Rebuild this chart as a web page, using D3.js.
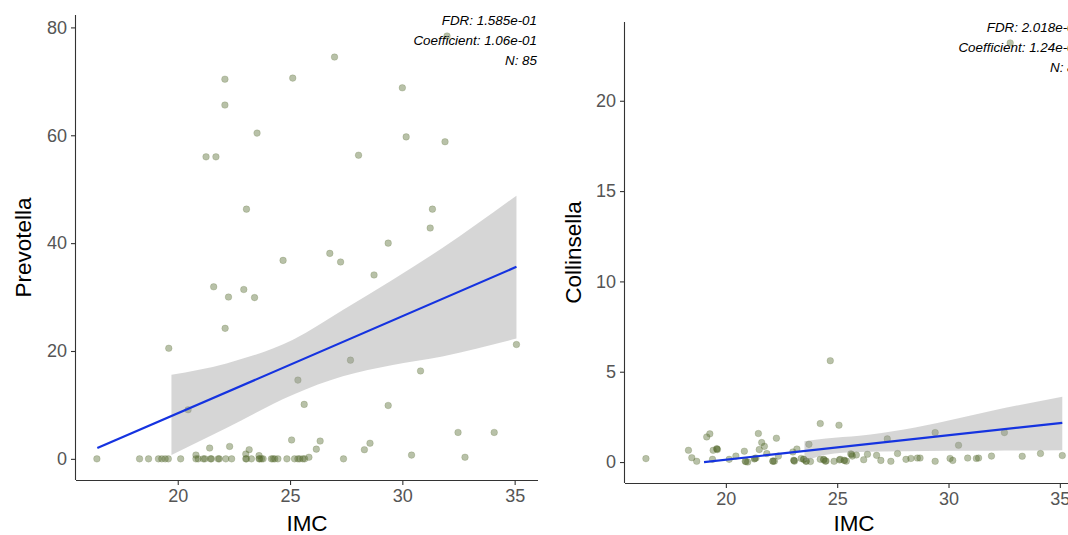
<!DOCTYPE html>
<html>
<head>
<meta charset="utf-8">
<script src="https://cdn.jsdelivr.net/npm/d3@7"></script>
<style>
  body { margin: 0; background: #fff; overflow: hidden; }
  text { font-family: "Liberation Sans", Arial, sans-serif; }
  .tickText { fill: #555; font-size: 18px; }
  .axisTitle { fill: #000; font-size: 22.5px; }
  .stat { fill: #000; font-size: 13.4px; font-style: italic; }
</style>
</head>
<body>
<div id="chart"></div>
<script>
// Data
// Left panel: Prevotella vs IMC
var prevIMC = [26.98, 31.99, 22.10, 25.12, 22.10, 30.00, 23.53, 30.17, 31.90, 21.26, 21.70, 28.05,
  23.06, 31.34, 31.24, 29.37, 26.77, 27.25, 24.69, 28.74, 21.60, 22.94, 22.26, 23.42, 22.11, 19.60,
  35.08, 27.69, 25.35, 30.81, 20.46, 25.63, 29.37, 32.48, 34.09,
  25.07, 26.34, 26.17, 28.56, 28.31, 21.42, 22.31, 23.18, 23.03, 23.62, 30.41, 32.79, 25.84, 20.81,
  16.40, 18.30, 18.70, 19.14, 19.29, 19.44, 19.58, 20.13, 20.81, 20.91, 21.14, 21.21, 21.46, 21.50,
  21.80, 21.85, 22.14, 22.40, 23.03, 23.06, 23.28, 23.62, 23.65, 23.73, 23.80, 24.17, 24.24, 24.32,
  24.46, 24.86, 25.20, 25.35, 25.43, 25.57, 25.65, 27.38];
var prevVal = [74.5, 78.4, 70.4, 70.6, 65.6, 68.8, 60.4, 59.7, 58.8, 56.0, 56.0, 56.3,
  46.3, 46.3, 42.8, 40.0, 38.1, 36.5, 36.8, 34.1, 31.9, 31.4, 30.0, 29.9, 24.2, 20.5,
  21.2, 18.3, 14.6, 16.3, 9.1, 10.1, 9.9, 4.9, 4.9,
  3.5, 3.3, 1.8, 2.9, 1.7, 2.0, 2.3, 1.7, 0.9, 0.6, 0.7, 0.3, 0.3, 0.7,
  0, 0, 0, 0, 0, 0, 0, 0, 0, 0, 0, 0, 0, 0,
  0, 0, 0, 0, 0, 0, 0, 0, 0, 0, 0, 0, 0, 0,
  0, 0, 0, 0, 0, 0, 0, 0];
var prevFitX = [16.42, 35.08];
var prevFitY = [2.0, 35.6];
var prevBandX = [19.72, 22.17, 25.13, 27.35, 29.57, 31.78, 35.08];
var prevBandLo = [0.7, 5.7, 11.9, 15.3, 17.4, 19.0, 22.3];
var prevBandHi = [15.6, 17.7, 22.1, 27.6, 33.2, 39.1, 48.8];
var prevStats = ["FDR: 1.585e-01", "Coefficient: 1.06e-01", "N: 85"];

// Right panel: Collinsella vs IMC
var collIMC = [16.41, 18.32, 18.47, 18.69, 19.14, 19.28, 19.40, 19.43, 19.59, 19.62, 20.15, 20.45,
  20.83, 20.87, 20.98, 21.28, 21.35, 21.46, 21.50, 21.61, 21.73, 21.84, 22.11, 22.18, 22.27, 22.36,
  23.01, 23.05, 23.08, 23.19, 23.38, 23.49, 23.61, 23.73, 23.80, 24.24, 24.24, 24.39, 24.47, 24.69,
  24.86, 25.08, 25.14, 25.31, 25.41, 25.61, 25.68, 25.86, 26.19, 26.36, 26.77, 26.96, 27.25, 27.41,
  27.71, 28.09, 28.31, 28.60, 28.72, 29.40, 29.40, 30.07, 30.19, 30.45, 30.86, 31.25, 31.35, 31.93,
  32.51, 33.31, 34.13, 35.11, 32.77,
  19.60, 22.12, 23.06, 23.50, 24.40, 25.33, 25.65, 20.90, 21.30, 23.60, 24.50, 25.10];
var collVal = [0.19, 0.65, 0.24, 0.04, 1.39, 1.56, 0.15, 0.65, 0.74, 0.69, 0.15, 0.33,
  0.60, 0.05, 0.00, 0.17, 0.22, 1.58, 0.69, 1.08, 0.87, 0.47, 0.05, 0.05, 1.32, 0.33,
  0.56, 0.10, 0.05, 0.72, 0.20, 0.15, 0.05, 0.98, 0.03, 2.13, 0.15, 0.15, 0.05, 5.61,
  0.04, 2.04, 0.15, 0.10, 0.05, 0.45, 0.33, 0.39, 0.13, 0.43, 0.37, 0.09, 1.28, 0.04,
  0.47, 0.15, 0.20, 0.22, 0.22, 1.63, 0.04, 0.20, 0.09, 0.93, 0.22, 0.20, 0.22, 0.33,
  1.63, 0.32, 0.47, 0.36, 23.2,
  0.72, 0.05, 0.08, 0.15, 0.12, 0.08, 0.42, 0.02, 0.20, 0.04, 0.06, 0.12];
var collFitX = [19.02, 35.11];
var collFitY = [0.0, 2.17];
var collBandX = [23.53, 24.5, 26.0, 28.0, 30.0, 32.0, 35.11];
var collBandLo = [0.05, 0.40, 0.55, 0.60, 0.62, 0.63, 0.65];
var collBandHi = [1.15, 1.30, 1.45, 1.80, 2.30, 2.85, 3.62];
var collStats = ["FDR: 2.018e-02", "Coefficient: 1.24e-01", "N: 85"];

var xTicks = [20, 25, 30, 35];
var xDomain = [15.47, 36.04];

var svg = d3.select("#chart")
  .append("svg")
  .attr("width", 1068)
  .attr("height", 535);

drawPanel({
  left: 76, right: 538, top: 15, bottom: 480,
  yDomain: [-3.92, 82.3], yTicks: [0, 20, 40, 60, 80],
  xs: prevIMC, ys: prevVal,
  fitX: prevFitX, fitY: prevFitY,
  bandX: prevBandX, bandLo: prevBandLo, bandHi: prevBandHi,
  stats: prevStats, yTitle: "Prevotella", yTitleX: 31, statTop: 20
});

drawPanel({
  left: 625, right: 1083, top: 22, bottom: 483,
  yDomain: [-1.16, 24.36], yTicks: [0, 5, 10, 15, 20],
  xs: collIMC, ys: collVal,
  fitX: collFitX, fitY: collFitY,
  bandX: collBandX, bandLo: collBandLo, bandHi: collBandHi,
  stats: collStats, yTitle: "Collinsella", yTitleX: 581, statTop: 27
});

function drawPanel(p) {
  var x = d3.scaleLinear().domain(xDomain).range([p.left, p.right]);
  var y = d3.scaleLinear().domain(p.yDomain).range([p.bottom, p.top]);

  var g = svg.append("g");

  // Points
  g.selectAll(".pt")
    .data(d3.range(p.xs.length))
    .enter()
    .append("circle")
    .attr("class", "pt")
    .attr("cx", function(i) { return x(p.xs[i]); })
    .attr("cy", function(i) { return y(p.ys[i]); })
    .attr("r", 3.3)
    .style("fill", "#556B2F")
    .style("fill-opacity", 0.42)
    .style("stroke", "#556B2F")
    .style("stroke-opacity", 0.3)
    .style("stroke-width", 0.7);

  // Confidence band
  var area = d3.area()
    .x(function(i) { return x(p.bandX[i]); })
    .y0(function(i) { return y(p.bandLo[i]); })
    .y1(function(i) { return y(p.bandHi[i]); })
    .curve(d3.curveMonotoneX);

  g.append("path")
    .datum(d3.range(p.bandX.length))
    .attr("d", area)
    .style("fill", "#999999")
    .style("fill-opacity", 0.4);

  // Fitted line
  var line = d3.line()
    .x(function(i) { return x(p.fitX[i]); })
    .y(function(i) { return y(p.fitY[i]); });

  g.append("path")
    .datum(d3.range(p.fitX.length))
    .attr("d", line)
    .style("fill", "none")
    .style("stroke", "#1533e0")
    .style("stroke-width", 2.2);

  // Axes
  var xAxis = g.append("g")
    .attr("transform", "translate(0," + p.bottom + ")")
    .call(d3.axisBottom(x).tickValues(xTicks).tickSizeOuter(0).tickSize(5).tickPadding(4));

  var yAxis = g.append("g")
    .attr("transform", "translate(" + p.left + ",0)")
    .call(d3.axisLeft(y).tickValues(p.yTicks).tickSizeOuter(0).tickSize(5).tickPadding(4));

  [xAxis, yAxis].forEach(function(a) {
    a.select(".domain").attr("stroke", "#333").attr("stroke-width", 1.1);
    a.selectAll(".tick line").attr("stroke", "#333").attr("stroke-width", 1.1);
    a.selectAll(".tick text").attr("class", "tickText").attr("fill", null);
  });
  // stretch axis lines to the full panel, like ggplot
  xAxis.select(".domain").attr("d", "M" + p.left + ",0.5H" + p.right);
  yAxis.select(".domain").attr("d", "M-0.5," + p.top + "V" + p.bottom);

  // Axis titles
  g.append("text")
    .attr("class", "axisTitle")
    .attr("x", (p.left + p.right) / 2)
    .attr("y", 531)
    .style("text-anchor", "middle")
    .text("IMC");

  g.append("text")
    .attr("class", "axisTitle")
    .attr("transform", "translate(" + p.yTitleX + "," + (p.top + p.bottom) / 2 + ") rotate(-90)")
    .style("text-anchor", "middle")
    .text(p.yTitle);

  // Stats text
  p.stats.forEach(function(s, k) {
    g.append("text")
      .attr("class", "stat")
      .attr("x", p.right - 1)
      .attr("y", p.statTop + k * 20 + 4.5)
      .style("text-anchor", "end")
      .text(s);
  });
}
</script>
</body>
</html>
